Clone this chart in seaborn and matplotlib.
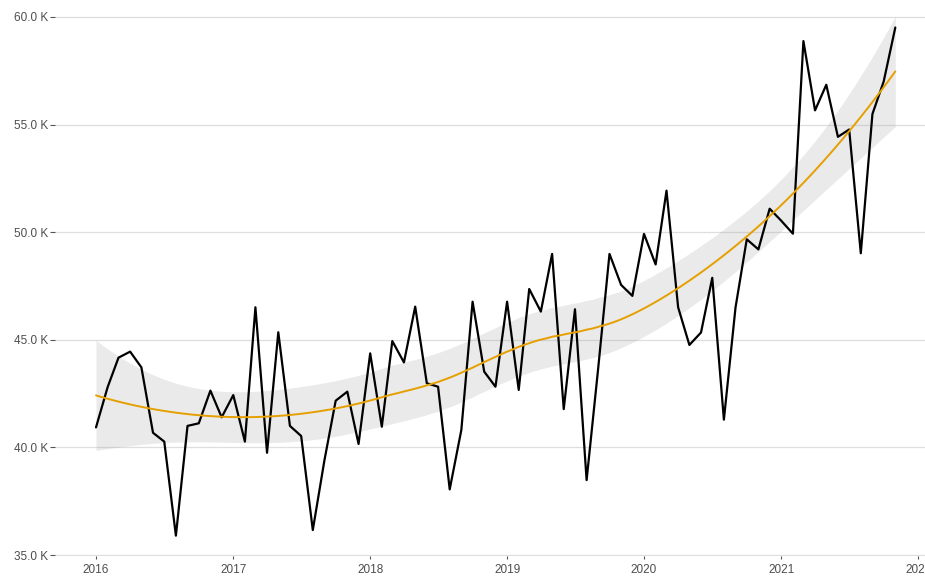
import numpy as np
import pandas as pd
import matplotlib
matplotlib.use("Agg")
import matplotlib.pyplot as plt
import matplotlib.dates as mdates
import seaborn as sns

# Monthly totals, Jan 2016 - Nov 2021
months = pd.date_range("2016-01-01", periods=71, freq="MS")
values = [
    40930, 42800, 44170, 44450, 43720, 40680, 40270, 35900, 41000, 41120, 42640, 41400,
    42430, 40270, 46510, 39750, 45350, 41000, 40530, 36160, 39400, 42170, 42590, 40160,
    44370, 40960, 44940, 43950, 46540, 42980, 42820, 38050, 40810, 46770, 43520, 42820,
    46770, 42670, 47360, 46310, 48990, 41780, 46420, 38480, 43700, 48990, 47550, 47040,
    49920, 48500, 51930, 46510, 44760, 45340, 47880, 41290, 46500, 49670, 49200, 51090,
    50530, 49930, 58880, 55660, 56850, 54430, 54770, 49020, 55490, 57000, 59510,
]
year_ticks = [2016, 2017, 2018, 2019, 2020, 2021, 2022]
y_ticks = [35000, 40000, 45000, 50000, 55000, 60000]

LINE_COLOR = "#000000"
SMOOTH_COLOR = "#E69F00"
TEXT_COLOR = "#4D4D4D"

df = pd.DataFrame({"date": mdates.date2num(months), "value": values})


def loess_fit(x, y, grid, span=0.75):
    """Local quadratic loess (tricube weights) with 95% pointwise CI."""
    n = len(x)
    q = int(np.floor(n * span))

    def weights_row(x0):
        d = np.abs(x - x0)
        h = np.sort(d)[q - 1]
        u = np.clip(d / h, 0, 1)
        w = (1 - u ** 3) ** 3
        X = np.column_stack([np.ones(n), x - x0, (x - x0) ** 2])
        XtW = X.T * w
        return np.linalg.solve(XtW @ X, XtW)[0]

    L = np.array([weights_row(xi) for xi in x])
    M = np.eye(n) - L
    MtM = M.T @ M
    one_delta = np.trace(MtM)
    two_delta = np.trace(MtM @ MtM)
    sigma = np.sqrt(np.sum((M @ y) ** 2) / one_delta)
    dof = one_delta ** 2 / two_delta
    z = 1.959964
    t = z + (z ** 3 + z) / (4 * dof) + (5 * z ** 5 + 16 * z ** 3 + 3 * z) / (96 * dof ** 2)

    Lg = np.array([weights_row(g) for g in grid])
    fit = Lg @ y
    se = sigma * np.sqrt(np.sum(Lg ** 2, axis=1))
    return fit, fit - t * se, fit + t * se


x = df["date"].to_numpy()
y = df["value"].to_numpy(dtype=float)
grid = np.linspace(x.min(), x.max(), 120)
fit, lo, hi = loess_fit(x, y, grid)
smooth = pd.DataFrame({"date": grid, "fit": fit, "lo": lo, "hi": hi})

sns.set_theme(style="white")
plt.rcParams["font.family"] = ["Liberation Sans", "DejaVu Sans"]

fig = plt.figure(figsize=(9.25, 5.77), dpi=100)
# panel: left edge at px 55, right edge at the figure edge; 1 K = 21.52 px
ax = fig.add_axes([55 / 925, (577 - 556.1) / 577, 870 / 925, (556.1 - 10.5) / 577])

ax.fill_between(smooth["date"], smooth["lo"], smooth["hi"],
                color="#999999", alpha=0.2, linewidth=0, zorder=2)
sns.lineplot(data=df, x="date", y="value", ax=ax, color=LINE_COLOR,
             linewidth=1.6, zorder=3)
sns.lineplot(data=smooth, x="date", y="fit", ax=ax, color=SMOOTH_COLOR,
             linewidth=1.4, zorder=4)

# x range: 2016-01-01 sits at px 96, one year = 137 px
start = mdates.date2num(pd.Timestamp("2016-01-01"))
day_px = 137 / 365.25
ax.set_xlim(start - 41 / day_px, start + 829 / day_px)
ax.set_ylim(34950, 60300)

ax.set_xticks([mdates.date2num(pd.Timestamp(f"{yr}-01-01")) for yr in year_ticks])
ax.set_xticklabels([str(yr) for yr in year_ticks])
ax.set_yticks(y_ticks)
ax.set_yticklabels([f"{v / 1000:.1f} K" for v in y_ticks])

ax.grid(axis="y", color="#DEDEDE", linewidth=0.9)
ax.grid(axis="x", visible=False)
for side in ["top", "right", "left", "bottom"]:
    ax.spines[side].set_visible(False)

ax.tick_params(axis="x", which="major", direction="out", length=2.5, width=0.8,
               color="#555555", labelsize=8.5, labelcolor=TEXT_COLOR, pad=3, bottom=True)
ax.tick_params(axis="y", which="major", direction="out", length=3.5, width=0.8,
               color="#555555", labelsize=8.5, labelcolor=TEXT_COLOR, pad=1.5, left=True)
ax.set_xlabel("")
ax.set_ylabel("")

fig.savefig("out.png", dpi=100)
